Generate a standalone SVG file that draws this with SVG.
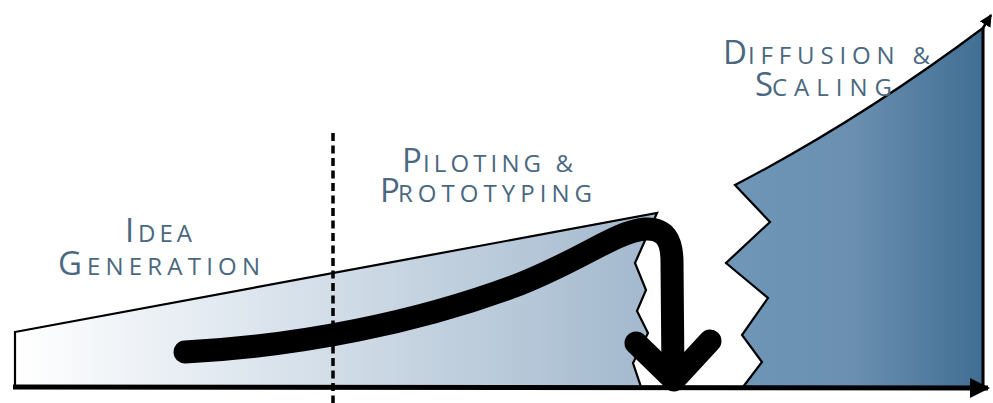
<svg xmlns="http://www.w3.org/2000/svg" width="993" height="403" viewBox="0 0 993 403">
  <defs>
    <linearGradient id="gIdea" x1="15" y1="0" x2="657" y2="0" gradientUnits="userSpaceOnUse">
      <stop offset="0" stop-color="#ffffff"/>
      <stop offset="0.35" stop-color="#dfe7ef"/>
      <stop offset="1" stop-color="#a2b8cd"/>
    </linearGradient>
    <linearGradient id="gDiff" x1="726" y1="0" x2="983" y2="0" gradientUnits="userSpaceOnUse">
      <stop offset="0" stop-color="#7097b8"/>
      <stop offset="0.5" stop-color="#6a8fb0"/>
      <stop offset="1" stop-color="#406e93"/>
    </linearGradient>
    <marker id="ah" viewBox="0 0 10 10" refX="9" refY="5" markerWidth="4" markerHeight="4" orient="auto" markerUnits="strokeWidth">
      <path d="M0,0 L10,5 L0,10 Z" fill="#000"/>
    </marker>
    <marker id="ahs" viewBox="0 0 10 10" refX="9" refY="5" markerWidth="5" markerHeight="5" orient="auto" markerUnits="strokeWidth">
      <path d="M0,0 L10,5 L0,10 Z" fill="#000"/>
    </marker>
  </defs>
  <style>
    .lbl { font-family: "Open Sans", Lato, "Liberation Sans", sans-serif; fill: #4a6880; font-weight: 500; }
    .big { font-size: 33px; }
    .sm { font-size: 24px; }
    .edge { stroke: #000; stroke-width: 2.2; stroke-linejoin: miter; }
    .ink { fill: none; stroke: #000; stroke-width: 23; stroke-linecap: round; stroke-linejoin: round; }
  </style>

  <g id="idea-generation-stage">
    <path class="edge" fill="url(#gIdea)" d="M15,332 L657,213 L643,245 L635,263 L646,290 L637,311 L648,333 L633,363 L641,387 L15,387 Z"/>
  </g>

  <g id="diffusion-stage">
    <path class="edge" fill="url(#gDiff)" d="M735,185 Q860,120 983,28 L983,387 L743,387 L762,362 L742,335 L768,298 L726,263 L770,222 Z"/>
  </g>

  <g id="labels">
    <text class="lbl big" x="125" y="242">I</text>
    <text class="lbl sm" x="138" y="242" textLength="54" lengthAdjust="spacing">DEA</text>
    <text class="lbl big" x="58" y="275">G</text>
    <text class="lbl sm" x="87" y="275" textLength="173" lengthAdjust="spacing">ENERATION</text>
    <text class="lbl big" x="402" y="172">P</text>
    <text class="lbl sm" x="423" y="172" textLength="150" lengthAdjust="spacing">ILOTING &amp;</text>
    <text class="lbl big" x="380" y="202">P</text>
    <text class="lbl sm" x="398" y="202" textLength="194" lengthAdjust="spacing">ROTOTYPING</text>
    <text class="lbl big" x="723" y="64">D</text>
    <text class="lbl sm" x="748" y="64" textLength="182" lengthAdjust="spacing">IFFUSION &amp;</text>
    <text class="lbl big" x="755" y="96">S</text>
    <text class="lbl sm" x="772" y="96" textLength="120" lengthAdjust="spacing">CALING</text>
  </g>

  <g id="connectors">
    <line x1="333" y1="133" x2="333" y2="403" stroke="#000" stroke-width="3.5" stroke-dasharray="8 4.5"/>
    <line x1="983" y1="28" x2="983" y2="387" stroke="#000" stroke-width="3"/>
    <line x1="983" y1="28" x2="991" y2="15" stroke="#000" stroke-width="2.5" marker-end="url(#ahs)"/>
    <line x1="13" y1="387" x2="988" y2="388" stroke="#000" stroke-width="5" marker-end="url(#ah)"/>
    <path class="ink" d="M185,352 C300,346 420,322 520,284 C585,258 615,232 645,229 C665,228 672,240 672,262 L673,376"/>
    <path class="ink" d="M636,343 L674,380 L710,341"/>
  </g>
</svg>
